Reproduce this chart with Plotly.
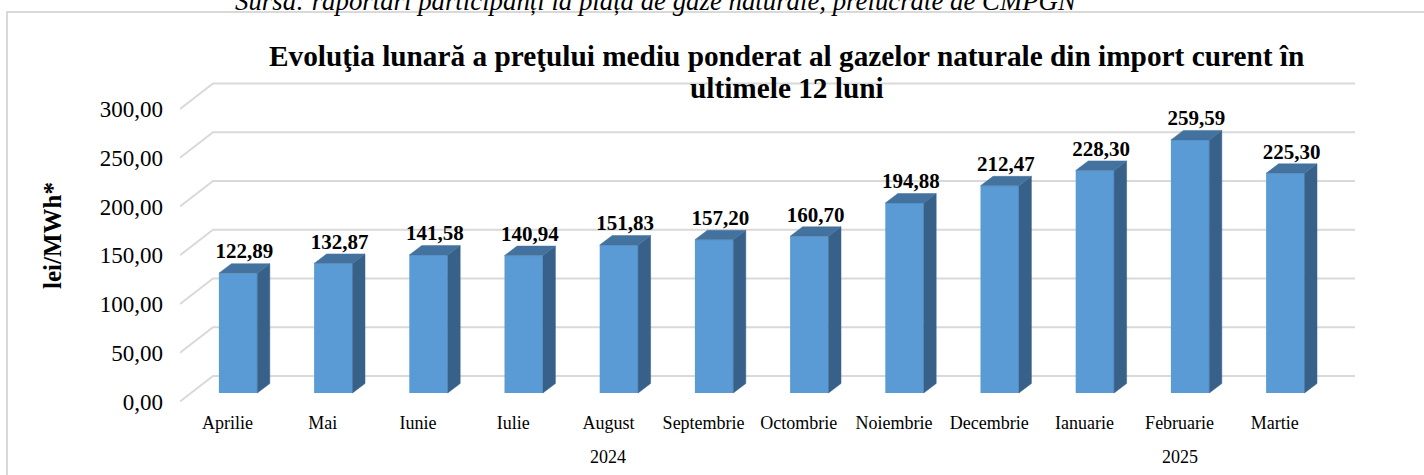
import plotly.graph_objects as go

# ---- data ----
months = ["Aprilie", "Mai", "Iunie", "Iulie", "August", "Septembrie", "Octombrie",
          "Noiembrie", "Decembrie", "Ianuarie", "Februarie", "Martie"]
years = ["2024"] * 9 + ["2025"] * 3
prices = [122.89, 132.87, 141.58, 140.94, 151.83, 157.20, 160.70,
          194.88, 212.47, 228.30, 259.59, 225.30]
y_ticks = [0, 50, 100, 150, 200, 250, 300]
title_lines = ["Evoluţia lunară a preţului mediu ponderat al gazelor naturale din import curent în",
               "ultimele 12 luni"]
source_text = "Sursa: raportări participanți la piața de gaze naturale, prelucrate de CMPGN"
y_title = "lei/MWh*"

# ---- geometry (pixels) ----
W, H = 1424, 475
L_PX, R_PX = 180, 1360          # plot area horizontal extent
T_PX, B_PX = 80, 405            # plot area vertical extent
SLOT_PX = 95.2                  # px per category
Y0_PX = 401.5                   # pixel of value 0 on the front floor edge
PX_PER_UNIT = 0.975

xr0 = -0.5
xr1 = xr0 + (R_PX - L_PX) / SLOT_PX
yr0 = -(B_PX - Y0_PX) / PX_PER_UNIT
yr1 = (Y0_PX - T_PX) / PX_PER_UNIT

# wall offset
WALL_DX = 33 / SLOT_PX
WALL_DY = 25.5 / PX_PER_UNIT
WALL_END = (1355 - L_PX) / SLOT_PX + xr0
# bar plane offset
BAR_DX = 10.5 / SLOT_PX
BAR_DY = 8.5 / PX_PER_UNIT
# bar depth
DEP_DX = 12.5 / SLOT_PX
DEP_DY = 9.5 / PX_PER_UNIT
BAR_W = 38.4 / SLOT_PX

FRONT = "#5B9BD5"
SIDE = "#38618A"
TOP = "#44729F"
GRID = "#D9D9D9"
SERIF = "Liberation Serif"

xs = list(range(len(months)))

fig = go.Figure()

# back wall gridlines + diagonals on floor side
gx, gy = [], []
for v in y_ticks:
    gx += [xr0, xr0 + WALL_DX, WALL_END, None]
    gy += [v, v + WALL_DY, v + WALL_DY, None]
fig.add_trace(go.Scatter(x=gx, y=gy, mode="lines", line=dict(color=GRID, width=2),
                         hoverinfo="skip", showlegend=False, xaxis="x", yaxis="y"))

# bar fronts
fig.add_trace(go.Bar(x=xs, y=prices, width=BAR_W, marker=dict(color=FRONT, line=dict(width=0)),
                     xaxis="x2", yaxis="y2", showlegend=False))

# side and top faces
sx, sy, tx, ty = [], [], [], []
for i, v in zip(xs, prices):
    xl, xr = i - BAR_W / 2, i + BAR_W / 2
    sx += [xr, xr + DEP_DX, xr + DEP_DX, xr, xr, None]
    sy += [0, DEP_DY, v + DEP_DY, v, 0, None]
    tx += [xl, xl + DEP_DX, xr + DEP_DX, xr, xl, None]
    ty += [v, v + DEP_DY, v + DEP_DY, v, v, None]
fig.add_trace(go.Scatter(x=sx, y=sy, mode="lines", fill="toself", fillcolor=SIDE,
                         line=dict(color=SIDE, width=0.5), hoverinfo="skip",
                         showlegend=False, xaxis="x2", yaxis="y2"))
fig.add_trace(go.Scatter(x=tx, y=ty, mode="lines", fill="toself", fillcolor=TOP,
                         line=dict(color=TOP, width=0.5), hoverinfo="skip",
                         showlegend=False, xaxis="x2", yaxis="y2"))

# value labels
fig.add_trace(go.Scatter(x=[i + DEP_DX / 2 for i in xs], y=[v + DEP_DY for v in prices],
                         mode="text", text=[f"{v:.2f}".replace(".", ",") for v in prices],
                         textposition="top center",
                         textfont=dict(family=SERIF, size=21, color="black", weight="bold"),
                         cliponaxis=False, hoverinfo="skip", showlegend=False,
                         xaxis="x2", yaxis="y2"))


def paper_x(px):
    return (px - L_PX) / (R_PX - L_PX)


def paper_y(py):
    return (B_PX - py) / (B_PX - T_PX)


annotations = []
# title lines
for txt, py in zip(title_lines, [56, 88]):
    annotations.append(dict(x=paper_x(786.5), y=paper_y(py), xref="paper", yref="paper",
                            text=f"<b>{txt}</b>", showarrow=False, xanchor="center",
                            yanchor="middle",
                            font=dict(family=SERIF, size=29.3, color="black")))
# year labels centered under their month groups
for yr in dict.fromkeys(years):
    idx = [i for i, y in enumerate(years) if y == yr]
    annotations.append(dict(x=sum(idx) / len(idx), xref="x", y=paper_y(457), yref="paper",
                            text=yr, showarrow=False, xanchor="center", yanchor="middle",
                            font=dict(family=SERIF, size=18, color="black")))
# y axis title
annotations.append(dict(x=paper_x(52), y=paper_y(236), xref="paper", yref="paper",
                        text=f"<b>{y_title}</b>", textangle=-90, showarrow=False,
                        xanchor="center", yanchor="middle",
                        font=dict(family=SERIF, size=25, color="black")))
# source line (cut off at top, as in the original page crop)
annotations.append(dict(x=paper_x(656), y=paper_y(18), xref="paper", yref="paper",
                        text=f"<i>{source_text}</i>",
                        showarrow=False, xanchor="center", yanchor="bottom",
                        font=dict(family=SERIF, size=26.8, color="black")))

fig.update_layout(
    width=W, height=H,
    margin=dict(l=L_PX, r=W - R_PX, t=T_PX, b=H - B_PX, pad=0),
    paper_bgcolor="white", plot_bgcolor="rgba(0,0,0,0)",
    separators=",.",
    xaxis=dict(range=[xr0, xr1], tickvals=xs, ticktext=months, showgrid=False,
               zeroline=False, showline=False, ticks="", ticklabelstandoff=5,
               tickfont=dict(family=SERIF, size=18, color="black"), fixedrange=True),
    yaxis=dict(range=[yr0, yr1], tickvals=y_ticks, tickformat=".2f", showgrid=False,
               zeroline=False, showline=False, ticks="", ticklabelstandoff=16,
               tickfont=dict(family=SERIF, size=23, color="black"), fixedrange=True),
    xaxis2=dict(range=[xr0 - BAR_DX, xr1 - BAR_DX], overlaying="x", visible=False,
                fixedrange=True),
    yaxis2=dict(range=[yr0 - BAR_DY, yr1 - BAR_DY], overlaying="y", visible=False,
                fixedrange=True),
    annotations=annotations,
    shapes=[dict(type="rect", xref="paper", yref="paper",
                 x0=paper_x(7), x1=paper_x(1440), y0=paper_y(490), y1=paper_y(12),
                 line=dict(color=GRID, width=2), fillcolor="rgba(0,0,0,0)", layer="below")],
    showlegend=False,
)

fig.write_html("out.html", config={"displayModeBar": False},
               post_script="document.body.style.margin='0px';")
